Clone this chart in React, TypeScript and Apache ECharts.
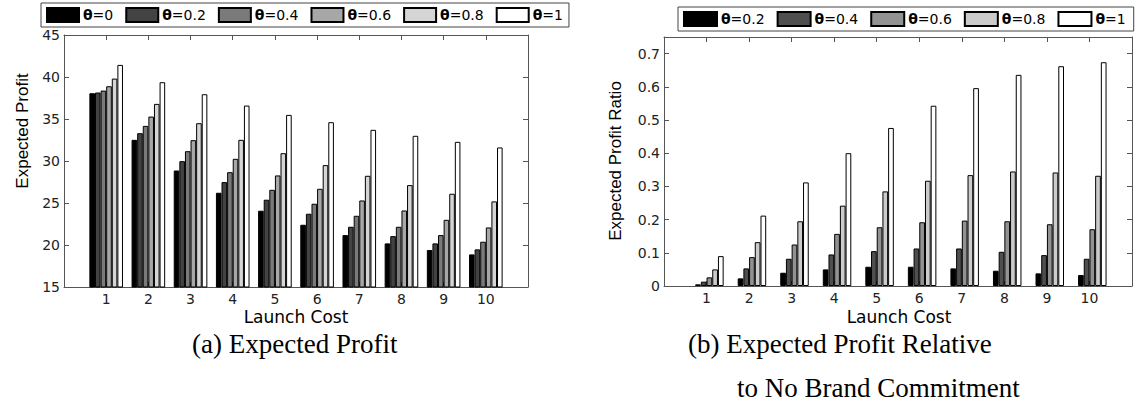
import React, { useEffect, useRef } from 'react';
import * as echarts from 'echarts';

// ---------- data ----------
const launchCosts = [1, 2, 3, 4, 5, 6, 7, 8, 9, 10];

const profitThetas = ['θ=0', 'θ=0.2', 'θ=0.4', 'θ=0.6', 'θ=0.8', 'θ=1'];
const profitTheta0 = [38.07, 32.52, 28.87, 26.22, 24.08, 22.41, 21.18, 20.19, 19.4, 18.88];
const profitTheta02 = [38.15, 33.31, 29.98, 27.49, 25.39, 23.72, 22.17, 21.06, 20.19, 19.48];
const profitTheta04 = [38.38, 34.18, 31.17, 28.67, 26.57, 24.91, 23.48, 22.17, 21.18, 20.39];
const profitTheta06 = [38.9, 35.29, 32.48, 30.26, 28.28, 26.69, 25.3, 24.11, 23.0, 22.09];
const profitTheta08 = [39.81, 36.8, 34.5, 32.52, 30.93, 29.51, 28.24, 27.13, 26.1, 25.19];
const profitTheta1 = [41.44, 39.38, 37.95, 36.6, 35.49, 34.62, 33.71, 33.0, 32.28, 31.61];

const ratioThetas = ['θ=0', 'θ=0.2', 'θ=0.4', 'θ=0.6', 'θ=0.8', 'θ=1'];
const ratioTheta0 = [0, 0, 0, 0, 0, 0, 0, 0, 0, 0];
const ratioTheta02 = [0.005, 0.023, 0.04, 0.05, 0.058, 0.058, 0.053, 0.046, 0.038, 0.033];
const ratioTheta04 = [0.013, 0.053, 0.082, 0.095, 0.105, 0.113, 0.113, 0.103, 0.093, 0.082];
const ratioTheta06 = [0.026, 0.087, 0.125, 0.157, 0.177, 0.192, 0.197, 0.195, 0.186, 0.171];
const ratioTheta08 = [0.05, 0.132, 0.195, 0.242, 0.285, 0.317, 0.334, 0.345, 0.342, 0.332];
const ratioTheta1 = [0.09, 0.212, 0.312, 0.4, 0.476, 0.543, 0.596, 0.636, 0.662, 0.674];

const profitTicks = [15, 20, 25, 30, 35, 40, 45];
const ratioTicks = [0, 0.1, 0.2, 0.3, 0.4, 0.5, 0.6, 0.7];

// ---------- styling ----------
const SANS = '"Liberation Sans", Arial, Helvetica, sans-serif';
const WIDE = '"DejaVu Sans", Verdana, sans-serif';
const SERIF = '"Liberation Serif", "Times New Roman", serif';
const AXIS_COLOR = '#555';
const profitColors = ['#000000', '#434343', '#7a7a7a', '#a7a7a7', '#d5d5d5', '#ffffff'];
const ratioColors = ['#ffffff', '#000000', '#4f4f4f', '#929292', '#cbcbcb', '#ffffff'];

const profitSeriesValues = [profitTheta0, profitTheta02, profitTheta04, profitTheta06, profitTheta08, profitTheta1];
const ratioSeriesValues = [ratioTheta0, ratioTheta02, ratioTheta04, ratioTheta06, ratioTheta08, ratioTheta1];

const PREFIX_B = '(b) ';

function xAxes(gridIndex: number) {
  const common = {
    gridIndex,
    type: 'value',
    min: 0,
    max: 11,
    interval: 1,
    splitLine: { show: false },
    axisLine: { show: true, onZero: false, lineStyle: { color: AXIS_COLOR, width: 1 } },
    axisTick: { show: true, inside: true, length: 5, lineStyle: { color: AXIS_COLOR } },
  };
  return [
    {
      ...common,
      position: 'bottom',
      axisLabel: {
        show: true,
        margin: 5,
        fontSize: 14,
        fontFamily: WIDE,
        color: '#222',
        formatter: (v: number) => (launchCosts.includes(v) ? String(v) : ''),
      },
    },
    { ...common, position: 'top', axisLabel: { show: false } },
  ];
}

function yAxes(gridIndex: number, ticks: number[], max: number) {
  const min = ticks[0];
  const interval = ticks[1] - ticks[0];
  const common = {
    gridIndex,
    type: 'value',
    min,
    max,
    interval,
    splitLine: { show: false },
    axisLine: { show: true, onZero: false, lineStyle: { color: AXIS_COLOR, width: 1 } },
    axisTick: { show: true, inside: true, length: 5, lineStyle: { color: AXIS_COLOR } },
  };
  return [
    {
      ...common,
      position: 'left',
      axisLabel: {
        show: true,
        margin: 4,
        fontSize: 14,
        fontFamily: WIDE,
        color: '#222',
        formatter: (v: number) => {
          const hit = ticks.find((t) => Math.abs(t - v) < 1e-9);
          return hit === undefined ? '' : String(hit);
        },
      },
    },
    { ...common, position: 'right', axisLabel: { show: false } },
  ];
}

const legendFormatter = (name: string) => {
  const clean = name.replace(PREFIX_B, '');
  return '{th|θ}' + clean.slice(1);
};

export default function App() {
  const ref = useRef<HTMLDivElement>(null);

  useEffect(() => {
    if (!ref.current) return;
    const chart = echarts.init(ref.current, null, { renderer: 'svg' });

    const series: any[] = [];
    profitThetas.forEach((name, s) => {
      series.push({
        type: 'bar',
        name,
        xAxisIndex: 0,
        yAxisIndex: 0,
        barWidth: 5.6,
        barGap: '0%',
        data: launchCosts.map((c, i) => [c, profitSeriesValues[s][i]]),
        itemStyle: { color: profitColors[s], borderColor: '#000', borderWidth: 1 },
      });
    });
    ratioThetas.forEach((name, s) => {
      series.push({
        type: 'bar',
        name: PREFIX_B + name,
        xAxisIndex: 2,
        yAxisIndex: 2,
        barWidth: 5.7,
        barGap: '0%',
        data: launchCosts.map((c, i) => [c, ratioSeriesValues[s][i]]),
        itemStyle: {
          color: ratioColors[s],
          borderColor: '#000',
          borderWidth: s === 0 ? 0 : 1,
          opacity: s === 0 ? 0 : 1,
        },
      });
    });

    const legendCommon = {
      orient: 'horizontal',
      icon: 'rect',
      itemHeight: 14,
      itemGap: 12,
      borderColor: '#444',
      borderWidth: 1,
      selectedMode: false,
      formatter: legendFormatter,
      textStyle: {
        fontSize: 14,
        fontFamily: WIDE,
        color: '#000',
        padding: [0, 0, 0, -1],
        rich: { th: { fontSize: 14, fontWeight: 'bold', fontFamily: WIDE, color: '#000' } },
      },
    };

    chart.setOption({
      animation: false,
      backgroundColor: '#fff',
      grid: [
        { left: 64, right: 607, top: 35, bottom: 125, containLabel: false },
        { left: 664, right: 1, top: 37, bottom: 126, containLabel: false },
      ],
      xAxis: [...xAxes(0), ...xAxes(1)],
      yAxis: [...yAxes(0, profitTicks, 45), ...yAxes(1, ratioTicks, 0.75)],
      legend: [
        { ...legendCommon, itemWidth: 32, left: 41, top: 3, padding: [4, 6, 4, 5], data: profitThetas },
        {
          ...legendCommon,
          itemWidth: 33,
          left: 678,
          top: 7,
          padding: [4, 8, 4, 5],
          data: ratioThetas.slice(1).map((n) => PREFIX_B + n),
        },
      ],
      graphic: [
        {
          type: 'text', x: 22, y: 131, rotation: Math.PI / 2,
          style: { text: 'Expected Profit', fontSize: 17, fontFamily: SANS, fill: '#000', textAlign: 'center', textVerticalAlign: 'middle' },
        },
        {
          type: 'text', x: 615, y: 161, rotation: Math.PI / 2,
          style: { text: 'Expected Profit Ratio', fontSize: 17, fontFamily: SANS, fill: '#000', textAlign: 'center', textVerticalAlign: 'middle' },
        },
        {
          type: 'text', x: 296, y: 317,
          style: { text: 'Launch Cost', fontSize: 17, fontFamily: WIDE, fill: '#000', textAlign: 'center', textVerticalAlign: 'middle' },
        },
        {
          type: 'text', x: 899, y: 317,
          style: { text: 'Launch Cost', fontSize: 17, fontFamily: WIDE, fill: '#000', textAlign: 'center', textVerticalAlign: 'middle' },
        },
        {
          type: 'text', x: 192, y: 344,
          style: { text: '(a) Expected Profit', fontSize: 27, fontFamily: SERIF, fill: '#000', textAlign: 'left', textVerticalAlign: 'middle' },
        },
        {
          type: 'text', x: 688, y: 344,
          style: { text: '(b) Expected Profit Relative', fontSize: 27, fontFamily: SERIF, fill: '#000', textAlign: 'left', textVerticalAlign: 'middle' },
        },
        {
          type: 'text', x: 737, y: 388,
          style: { text: 'to No Brand Commitment', fontSize: 27, fontFamily: SERIF, fill: '#000', textAlign: 'left', textVerticalAlign: 'middle' },
        },
      ],
      series,
    });

    return () => chart.dispose();
  }, []);

  return (
    <div
      ref={ref}
      style={{ position: 'fixed', left: 0, top: 0, width: 1135, height: 412, background: '#fff' }}
    />
  );
}
